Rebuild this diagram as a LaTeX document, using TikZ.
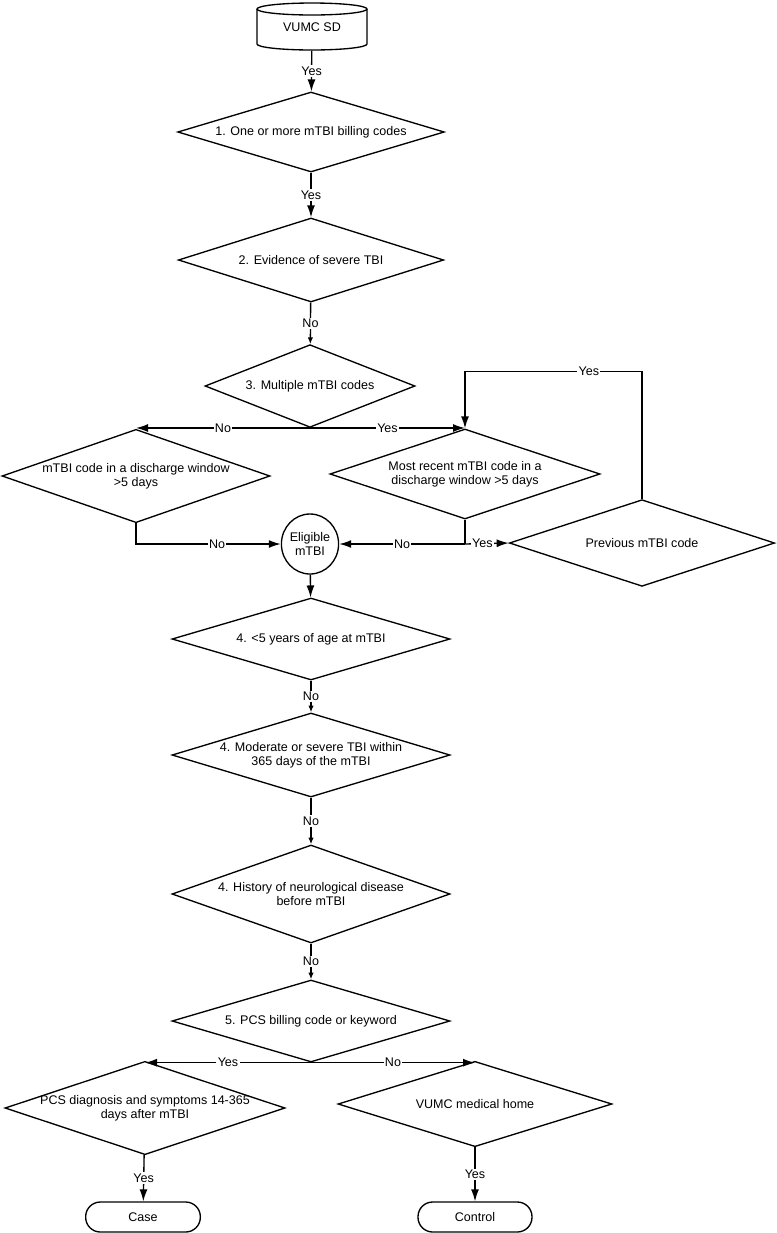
\documentclass[tikz,border=0pt]{standalone}
\usepackage{fontspec}
\setmainfont{Liberation Sans}
\usetikzlibrary{shapes.geometric, arrows.meta, calc}

\tikzset{
    txt/.style={font=\fontsize{9.4pt}{10.8pt}\selectfont},
    decision/.style={txt, diamond, draw, line width=1pt, inner sep=0pt, align=center},
    terminal/.style={txt, draw, line width=1pt, rounded corners=11pt, inner sep=0pt},
    conn/.style={line width=1pt},
    arr/.style={conn, -{Latex[length=9pt,width=6pt]}},
    shortarr/.style={conn, -{Latex[length=5pt,width=4pt]}},
    lbl/.style={txt, fill=white, inner sep=1pt}
}

\begin{document}
\begin{tikzpicture}[x=0.75pt, y=-0.75pt]
    \useasboundingbox (0,0) rectangle (777,1233);

    % Data source (cylinder)
    \node[txt, minimum width=82.5pt, minimum height=35pt] (sd) at (312,27) {VUMC SD};
    \draw[conn] (257,9) -- (257,44) arc[start angle=180, end angle=360, x radius=41.25pt, y radius=4.5pt] -- (367,9);
    \draw[conn] (312,9) ellipse [x radius=41.25pt, y radius=4.5pt];

    % Main column
    \node[decision, minimum width=200pt, minimum height=60pt, aspect=3.3] (d1) at (311,132) {1. One or more mTBI billing codes};
    \node[decision, minimum width=199pt, minimum height=63pt, aspect=3.1] (d2) at (311,260) {2. Evidence of severe TBI};
    \node[decision, minimum width=157.5pt, minimum height=62pt, aspect=2.5] (d3) at (310,386) {3. Multiple mTBI codes};

    % Split on multiple codes
    \node[decision, minimum width=201pt, minimum height=70pt, aspect=2.9] (dl) at (136,476) {mTBI code in a discharge window\\>5 days};
    \node[decision, minimum width=202.5pt, minimum height=67.5pt, aspect=3] (dr) at (465,474) {Most recent mTBI code in a\\discharge window >5 days};
    \node[decision, minimum width=199pt, minimum height=65pt, aspect=3] (prev) at (642,543) {Previous mTBI code};
    \node[txt, ellipse, draw, line width=1pt, inner sep=0pt, minimum width=42pt, minimum height=45pt, align=center] (elig) at (310,544) {Eligible\\mTBI};

    % Exclusions
    \node[decision, minimum width=208.5pt, minimum height=61.5pt, aspect=3.4] (d4a) at (311,639) {4. <5 years of age at mTBI};
    \node[decision, minimum width=208.5pt, minimum height=63pt, aspect=3.3] (d4b) at (311,755) {4. Moderate or severe TBI within\\365 days of the mTBI};
    \node[decision, minimum width=208.5pt, minimum height=73.5pt, aspect=2.84] (d4c) at (311,894) {4. History of neurological disease\\before mTBI};
    \node[decision, minimum width=208.5pt, minimum height=61.5pt, aspect=3.4] (d5) at (311,1021) {5. PCS billing code or keyword};

    % Outcomes
    \node[decision, minimum width=210pt, minimum height=70pt, aspect=3, inner xsep=-6pt] (pcs) at (145,1108) {PCS diagnosis and symptoms 14-365\\days after mTBI};
    \node[decision, minimum width=205.5pt, minimum height=64pt, aspect=3.2] (home) at (475,1104) {VUMC medical home};
    \node[terminal, minimum width=86pt, minimum height=22.5pt] (case) at (143,1217) {Case};
    \node[terminal, minimum width=85.5pt, minimum height=22.5pt] (ctrl) at (475,1217) {Control};

    % Connectors
    \draw[arr] (sd) -- node[lbl] {Yes} (d1);
    \draw[arr] (d1) -- node[lbl] {Yes} (d2);
    \draw[shortarr] (d2) -- node[lbl] {No} (d3);
    \draw[arr] (d3.south) -- node[lbl] {No} (d3.south -| dl.north);
    \draw[arr] (d3.south) -- node[lbl] {Yes} (d3.south -| dr.north);
    \draw[arr] (dl.south) |- node[lbl, pos=0.78] {No} (elig.west);
    \coordinate (split) at (dr.south |- elig.east);
    \draw[conn] (dr.south) -- (split);
    \draw[arr] (split) -- node[lbl] {No} (elig.east);
    \draw[arr] (split) -- node[lbl, pos=0.4] {Yes} (prev.west);
    \path (dr.north) ++(0,-57) coordinate (loop);
    \draw[arr] (prev.north) |- node[lbl, pos=0.65] {Yes} (loop) -- (dr.north);
    \draw[arr] (elig) -- (d4a);
    \draw[shortarr] (d4a) -- node[lbl] {No} (d4b);
    \draw[shortarr] (d4b) -- node[lbl] {No} (d4c);
    \draw[shortarr] (d4c) -- node[lbl] {No} (d5);
    \draw[arr] (d5.south) -- node[lbl] {Yes} (d5.south -| pcs.north);
    \draw[arr] (d5.south) -- node[lbl] {No} (d5.south -| home.north);
    \draw[arr] (pcs) -- node[lbl] {Yes} (case);
    \draw[arr] (home) -- node[lbl] {Yes} (ctrl);
\end{tikzpicture}
\end{document}
